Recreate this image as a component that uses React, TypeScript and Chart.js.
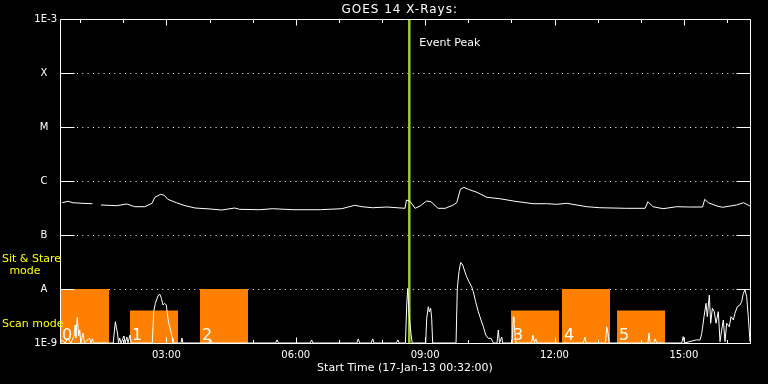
import React, { useEffect, useRef } from 'react';
import { Chart, registerables } from 'chart.js';

Chart.register(...registerables);

// ---- data (time in minutes after 00:00 on 17-Jan-13, flux in W/m^2) ----
const titleText = 'GOES 14 X-Rays:';
const xTitleText = 'Start Time (17-Jan-13 00:32:00)';
const eventLabel = 'Event Peak';
const timeMin = 32;
const timeMax = 992;
const eventTime = 518;

const hourTicks = [60, 120, 180, 240, 300, 360, 420, 480, 540, 600, 660, 720, 780, 840, 900, 960];
const labelEvery = 180;

const yTickValues = [1e-9, 1e-8, 1e-7, 1e-6, 1e-5, 1e-4, 1e-3];
const yTickLabels = ['1E-9', 'A', 'B', 'C', 'M', 'X', '1E-3'];

const longTimes = [35, 43, 50, 64, 77, 83, 89, 111, 125, 136, 150, 160, 164, 172, 177, 182, 194, 206, 220, 241, 257, 275, 282, 310, 328, 356, 394, 424, 442, 452, 467, 487, 512, 514, 519, 526, 533, 542, 548, 558, 568, 579, 584, 589, 594, 600, 612, 626, 644, 665, 690, 709, 723, 737, 765, 783, 820, 846, 850, 857, 871, 890, 908, 926, 929, 934, 946, 954, 973, 983, 992];
const longFlux = [3.96e-7, 4.21e-7, 3.96e-7, 3.86e-7, 3.8e-7, null, 3.59e-7, 3.49e-7, 3.75e-7, 3.34e-7, 3.34e-7, 3.86e-7, 4.99e-7, 5.67e-7, 5.43e-7, 4.58e-7, 3.96e-7, 3.49e-7, 3.16e-7, 3.03e-7, 2.9e-7, 3.16e-7, 2.99e-7, 2.94e-7, 3.07e-7, 2.94e-7, 2.94e-7, 3.07e-7, 3.55e-7, 3.34e-7, 3.2e-7, 3.3e-7, 3.12e-7, 4.45e-7, 4.2e-7, 3.12e-7, 3.44e-7, 4.26e-7, 4.14e-7, 3.12e-7, 3.12e-7, 3.59e-7, 3.96e-7, 7.02e-7, 7.64e-7, 7.02e-7, 6.18e-7, 4.99e-7, 4.7e-7, 4.21e-7, 3.8e-7, 3.8e-7, 3.7e-7, 3.86e-7, 3.34e-7, 3.2e-7, 3.12e-7, 3.12e-7, 4.14e-7, 3.34e-7, 3.07e-7, 3.34e-7, 3.3e-7, 3.3e-7, 4.58e-7, 3.96e-7, 3.44e-7, 3.26e-7, 3.59e-7, 3.96e-7, 3.44e-7];

const shortTimes = [32, 35, 39, 43, 47, 51.5, 53, 54, 56, 58, 59.4, 61, 64, 66, 73, 75, 77, 79, 106, 109, 110.5, 112, 113.4, 115, 117, 121, 122.5, 125, 126.6, 129.4, 131, 160.4, 162.4, 164.6, 168.3, 170.7, 173, 175.3, 177.7, 179.9, 181.3, 183.2, 186, 188.2, 189.2, 200.3, 201.7, 203, 239, 240.7, 242, 332, 334, 336, 380, 382, 384, 445, 447, 449, 465, 467, 469, 500, 502, 504, 512.6, 514.4, 515.8, 517.6, 520.3, 522, 540.8, 542.2, 544.4, 545.8, 547.7, 549.1, 550.5, 583, 584.8, 587.1, 589.5, 592.3, 594.5, 597.8, 601, 604.8, 607, 610.3, 614, 617.7, 621, 624.3, 628, 631.7, 635, 640, 641.8, 643.5, 646.5, 648, 661, 662.7, 663.6, 665, 666.4, 688, 690, 692, 694, 696, 760, 762.5, 764, 791, 792.6, 794.4, 796, 850, 851.4, 853, 858, 860, 862, 897, 899, 901, 917, 922.5, 924.9, 928, 930.8, 932.6, 935.4, 937.3, 939.6, 942.3, 944.7, 947.9, 950.3, 952.6, 954.9, 957.2, 959.6, 963.2, 965.6, 968.8, 971.1, 974.3, 978.1, 980.4, 982.7, 985, 987.4, 989.6, 992];
const shortFlux = [1e-9, 1.14e-9, 1e-9, 1.24e-9, 1e-9, 1.35e-9, 2.15e-9, 1.24e-9, 2.99e-9, 1.35e-9, 1.74e-9, 1e-9, 1.53e-9, 1e-9, 1.24e-9, 1e-9, 1.19e-9, 1e-9, 1e-9, 2.48e-9, 1.9e-9, 1.53e-9, 1e-9, 1.24e-9, 1e-9, 1.35e-9, 1e-9, 1.29e-9, 1e-9, 1.41e-9, 1e-9, 1e-9, 3.8e-9, 5.43e-9, 7.42e-9, 8.08e-9, 6.73e-9, 5.05e-9, 5.43e-9, 5.05e-9, 3.55e-9, 2.32e-9, 1.74e-9, 1.22e-9, 1e-9, 1e-9, 1.24e-9, 1e-9, 1e-9, 1.14e-9, 1e-9, 1e-9, 1.14e-9, 1e-9, 1e-9, 1.14e-9, 1e-9, 1e-9, 1.19e-9, 1e-9, 1e-9, 1.19e-9, 1e-9, 1e-9, 1.14e-9, 1e-9, 1e-9, 5.05e-9, 1.03e-8, 3.55e-9, 1.51e-9, 1e-9, 1e-9, 2.87e-9, 4.7e-9, 3.8e-9, 4.39e-9, 2.87e-9, 1e-9, 1e-9, 1.03e-8, 2.09e-8, 3.12e-8, 2.78e-8, 2.25e-8, 1.69e-8, 1.36e-8, 1.1e-8, 8.91e-9, 5.82e-9, 3.8e-9, 2.67e-9, 2.0e-9, 1.41e-9, 1.22e-9, 1.22e-9, 1e-9, 1e-9, 1.74e-9, 1e-9, 1.29e-9, 1e-9, 1e-9, 3.07e-9, 2.34e-9, 1.53e-9, 1e-9, 1e-9, 1.41e-9, 1e-9, 1.19e-9, 1e-9, 1e-9, 1.29e-9, 1e-9, 1e-9, 2.0e-9, 1.53e-9, 1e-9, 1e-9, 1.53e-9, 1e-9, 1e-9, 1.19e-9, 1e-9, 1e-9, 1.31e-9, 1e-9, 1.14e-9, 1.14e-9, 1.51e-9, 3.07e-9, 5.43e-9, 3.07e-9, 7.74e-9, 2.32e-9, 4.39e-9, 3.8e-9, 2.32e-9, 3.8e-9, 1.06e-9, 1.74e-9, 2.67e-9, 1.06e-9, 2.32e-9, 2.0e-9, 3.07e-9, 2.67e-9, 3.55e-9, 4.7e-9, 5.05e-9, 5.82e-9, 8.32e-9, 9.58e-9, 7.2e-9, 3.07e-9, 1.06e-9];

const scanStarts = [32, 129.4, 226.8, 659.5, 730.4, 807];
const scanEnds = [100.2, 196.2, 293.6, 726.3, 797.2, 873.8];
const scanTops = [1e-8, 4e-9, 1e-8, 4e-9, 1e-8, 4e-9];
const scanLabels = ['0', '1', '2', '3', '4', '5'];

const FONT = "'DejaVu Sans', sans-serif";

function fmtTime(m: number) {
  const h = Math.floor(m / 60);
  const mm = Math.round(m % 60);
  return String(h).padStart(2, '0') + ':' + String(mm).padStart(2, '0');
}

const overlayPlugin = {
  id: 'goesOverlay',
  beforeDatasetsDraw(chart: any) {
    const { ctx, chartArea } = chart;
    const { left, right } = chartArea;
    const y = chart.scales.y;
    ctx.save();
    ctx.strokeStyle = '#ffffff';
    ctx.lineWidth = 1;
    ctx.setLineDash([1, 4.33]);
    y.ticks.forEach((t: any) => {
      if (t.value > y.min * 1.01 && t.value < y.max * 0.99) {
        const py = Math.round(y.getPixelForValue(t.value)) + 0.5;
        ctx.beginPath();
        ctx.moveTo(left + 17, py);
        ctx.lineTo(right - 14, py);
        ctx.stroke();
      }
    });
    ctx.restore();
  },
  afterDatasetsDraw(chart: any) {
    const { ctx, chartArea } = chart;
    const { left, right, top, bottom } = chartArea;
    const x = chart.scales.x;
    const y = chart.scales.y;
    ctx.save();
    ctx.strokeStyle = '#ffffff';
    ctx.lineWidth = 1;
    const L = Math.floor(left) + 0.5;
    const R = Math.floor(right) + 0.5;
    const T = Math.floor(top) + 0.5;
    const B = Math.floor(bottom) + 0.5;
    // box
    ctx.beginPath();
    ctx.moveTo(L, T); ctx.lineTo(R, T); ctx.lineTo(R, B); ctx.lineTo(L, B); ctx.closePath();
    ctx.stroke();
    // x ticks (inward, top and bottom)
    x.ticks.forEach((t: any) => {
      const px = Math.round(x.getPixelForValue(t.value)) + 0.5;
      const len = t.value % labelEvery === 0 ? 6 : 3.5;
      ctx.beginPath();
      ctx.moveTo(px, T); ctx.lineTo(px, T + len);
      ctx.moveTo(px, B); ctx.lineTo(px, B - len);
      ctx.stroke();
    });
    // y ticks (inward, left and right)
    y.ticks.forEach((t: any) => {
      const py = Math.round(y.getPixelForValue(t.value)) + 0.5;
      ctx.beginPath();
      ctx.moveTo(L, py); ctx.lineTo(L + 14, py);
      ctx.moveTo(R, py); ctx.lineTo(R - 14, py);
      ctx.stroke();
    });
    // y labels
    ctx.fillStyle = '#ffffff';
    ctx.font = `10px ${FONT}`;
    ctx.textBaseline = 'middle';
    y.ticks.forEach((t: any) => {
      const idx = yTickValues.findIndex((v) => Math.abs(Math.log10(v) - Math.log10(t.value)) < 1e-6);
      if (idx < 0) return;
      const lab = yTickLabels[idx];
      const py = y.getPixelForValue(t.value);
      if (lab.length > 1) {
        ctx.textAlign = 'right';
        ctx.fillText(lab, left - 3, py);
      } else {
        ctx.textAlign = 'center';
        ctx.fillText(lab, left - 16, py);
      }
    });
    // scan numbers on the orange blocks
    ctx.font = `16px ${FONT}`;
    ctx.textAlign = 'left';
    ctx.textBaseline = 'alphabetic';
    scanStarts.forEach((s, i) => {
      ctx.fillText(scanLabels[i], x.getPixelForValue(s) + 2, bottom - 3);
    });
    // yellow mode labels
    ctx.fillStyle = '#ffff00';
    ctx.font = `11px ${FONT}`;
    ctx.textBaseline = 'middle';
    ctx.textAlign = 'left';
    ctx.fillText('Sit & Stare', 2, 259);
    ctx.textAlign = 'center';
    ctx.fillText('mode', 25, 271);
    ctx.textAlign = 'left';
    ctx.fillText('Scan mode', 2, 324);
    // event label
    ctx.fillStyle = '#ffffff';
    ctx.font = `11px ${FONT}`;
    ctx.textAlign = 'left';
    ctx.fillText(eventLabel, x.getPixelForValue(eventTime) + 10, 43);
    // title
    ctx.font = `12px ${FONT}`;
    ctx.textAlign = 'right';
    try { (ctx as any).letterSpacing = '1px'; } catch (e) { /* ignore */ }
    ctx.fillText(titleText, 458, 9.5);
    try { (ctx as any).letterSpacing = '0px'; } catch (e) { /* ignore */ }
    // x title
    ctx.font = `11px ${FONT}`;
    ctx.textAlign = 'center';
    ctx.fillText(xTitleText, (left + right) / 2, 368);
    ctx.restore();
  },
};

export default function App() {
  const ref = useRef<HTMLCanvasElement | null>(null);

  useEffect(() => {
    const canvas = ref.current;
    if (!canvas) return;

    const scanDatasets = scanStarts.map((s, i) => ({
      type: 'line' as const,
      label: 'scan ' + scanLabels[i],
      data: [
        { x: s, y: scanTops[i] },
        { x: scanEnds[i], y: scanTops[i] },
      ],
      borderWidth: 0,
      borderColor: 'rgba(0,0,0,0)',
      backgroundColor: '#ff8000',
      fill: 'start',
      pointRadius: 0,
      order: 10,
    }));

    const chart = new Chart(canvas, {
      type: 'line',
      data: {
        datasets: [
          {
            label: '1-8 A',
            data: longTimes.map((t, i) => ({ x: t, y: longFlux[i] })),
            borderColor: '#ffffff',
            borderWidth: 1,
            pointRadius: 0,
            fill: false,
            spanGaps: false,
            order: 0,
          },
          {
            label: '0.5-4 A',
            data: shortTimes.map((t, i) => ({ x: t, y: shortFlux[i] })),
            borderColor: '#ffffff',
            borderWidth: 1,
            pointRadius: 0,
            fill: false,
            order: 1,
          },
          {
            label: 'Event Peak',
            data: [
              { x: eventTime, y: 1e-9 },
              { x: eventTime, y: 1e-3 },
            ],
            borderColor: '#9acd32',
            borderWidth: 2.5,
            pointRadius: 0,
            fill: false,
            order: 2,
          },
          ...scanDatasets,
        ] as any,
      },
      options: {
        animation: false,
        responsive: false,
        maintainAspectRatio: false,
        devicePixelRatio: 1,
        parsing: true,
        layout: { padding: { top: 19, right: 18, left: 0, bottom: 0 } },
        plugins: {
          legend: { display: false },
          tooltip: { enabled: false },
          title: { display: false },
        },
        scales: {
          x: {
            type: 'linear',
            min: timeMin,
            max: timeMax,
            afterBuildTicks: (scale: any) => {
              scale.ticks = hourTicks.map((v) => ({ value: v }));
            },
            afterFit: (scale: any) => {
              scale.height = 41;
            },
            grid: { display: false, drawTicks: false },
            border: { display: false },
            ticks: {
              autoSkip: false,
              maxRotation: 0,
              minRotation: 0,
              padding: 6,
              color: '#ffffff',
              font: { family: FONT, size: 10 },
              callback: (v: any) => (Number(v) % labelEvery === 0 ? fmtTime(Number(v)) : ''),
            },
          },
          y: {
            type: 'logarithmic',
            min: 1e-9,
            max: 1e-3,
            afterBuildTicks: (scale: any) => {
              scale.ticks = yTickValues.map((v) => ({ value: v }));
            },
            afterFit: (scale: any) => {
              scale.width = 60;
            },
            grid: { display: false, drawTicks: false },
            border: { display: false },
            ticks: { display: false },
          },
        },
      } as any,
      plugins: [overlayPlugin],
    });

    return () => {
      chart.destroy();
    };
  }, []);

  return (
    <div
      style={{
        position: 'fixed',
        left: 0,
        top: 0,
        width: 768,
        height: 384,
        background: '#000000',
      }}
    >
      <canvas ref={ref} width={768} height={384} style={{ display: 'block', width: 768, height: 384 }} />
    </div>
  );
}
